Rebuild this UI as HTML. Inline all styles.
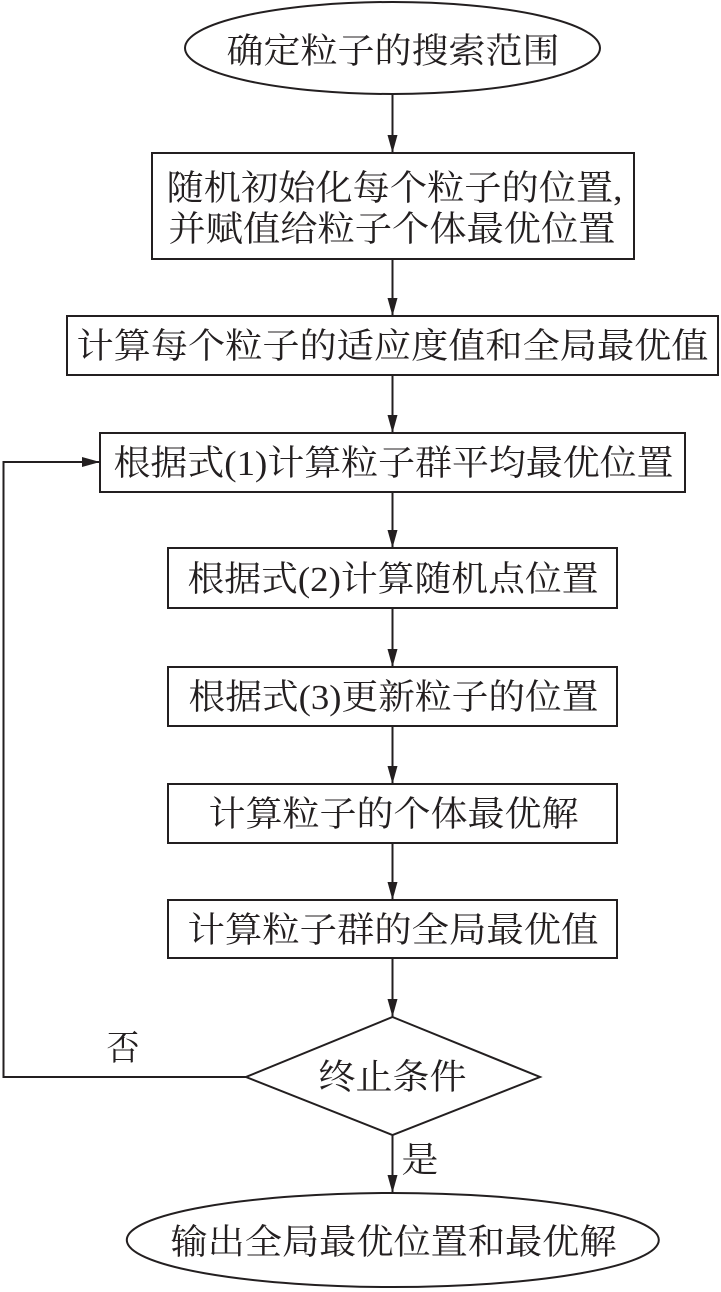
<!DOCTYPE html>
<html>
<head>
<meta charset="utf-8">
<style>
  html, body { margin: 0; padding: 0; background: #ffffff; }
  svg { display: block; }
  text { font-family: "Liberation Serif", "Noto Serif CJK SC", serif; font-size: 35px; fill: #231f20; }
</style>
</head>
<body>
<svg width="721" height="1292" viewBox="0 0 721 1292" xmlns="http://www.w3.org/2000/svg">
  <defs>
    <marker id="ah" markerWidth="18" markerHeight="10" refX="18" refY="5" orient="auto" markerUnits="userSpaceOnUse">
      <path d="M0,0 L18,5 L0,10 Z" fill="#231f20"/>
    </marker>
  </defs>
  <g fill="none" stroke="#231f20" stroke-width="2">
    <!-- top ellipse -->
    <ellipse cx="392.5" cy="48" rx="207.5" ry="46"/>
    <!-- boxes -->
    <rect x="152" y="153" width="482" height="106"/>
    <rect x="67" y="316" width="651" height="59"/>
    <rect x="100" y="433" width="585" height="59"/>
    <rect x="168" y="548" width="449" height="60"/>
    <rect x="168" y="667" width="449" height="59"/>
    <rect x="168" y="784" width="449" height="59"/>
    <rect x="168" y="900" width="449" height="58"/>
    <!-- diamond -->
    <polygon points="392.5,1017 540,1077 392.5,1135 246,1077"/>
    <!-- bottom ellipse -->
    <ellipse cx="392.8" cy="1240" rx="266" ry="47"/>
    <!-- arrows -->
    <line x1="392.5" y1="94" x2="392.5" y2="153" marker-end="url(#ah)"/>
    <line x1="392.5" y1="259" x2="392.5" y2="316" marker-end="url(#ah)"/>
    <line x1="392.5" y1="375" x2="392.5" y2="433" marker-end="url(#ah)"/>
    <line x1="392.5" y1="492" x2="392.5" y2="548" marker-end="url(#ah)"/>
    <line x1="392.5" y1="608" x2="392.5" y2="667" marker-end="url(#ah)"/>
    <line x1="392.5" y1="726" x2="392.5" y2="784" marker-end="url(#ah)"/>
    <line x1="392.5" y1="843" x2="392.5" y2="900" marker-end="url(#ah)"/>
    <line x1="392.5" y1="958" x2="392.5" y2="1017" marker-end="url(#ah)"/>
    <line x1="392.5" y1="1135" x2="392.5" y2="1193" marker-end="url(#ah)"/>
    <!-- loop back -->
    <polyline points="246,1077 3.5,1077 3.5,462 100,462" marker-end="url(#ah)"/>
  </g>

  <text x="226.5" y="63" textLength="333" lengthAdjust="spacingAndGlyphs">确定粒子的搜索范围</text>
  <text x="166.5" y="200" textLength="456" lengthAdjust="spacingAndGlyphs">随机初始化每个粒子的位置,</text>
  <text x="168.5" y="241" textLength="447" lengthAdjust="spacingAndGlyphs">并赋值给粒子个体最优位置</text>
  <text x="76.5" y="358" textLength="632" lengthAdjust="spacingAndGlyphs">计算每个粒子的适应度值和全局最优值</text>
  <text x="113.5" y="475" textLength="560" lengthAdjust="spacingAndGlyphs">根据式(1)计算粒子群平均最优位置</text>
  <text x="187.5" y="591" textLength="411" lengthAdjust="spacingAndGlyphs">根据式(2)计算随机点位置</text>
  <text x="188.5" y="709" textLength="410" lengthAdjust="spacingAndGlyphs">根据式(3)更新粒子的位置</text>
  <text x="208.5" y="826" textLength="370" lengthAdjust="spacingAndGlyphs">计算粒子的个体最优解</text>
  <text x="187.5" y="942" textLength="411" lengthAdjust="spacingAndGlyphs">计算粒子群的全局最优值</text>
  <text x="318.5" y="1089" textLength="148" lengthAdjust="spacingAndGlyphs">终止条件</text>
  <text x="106.5" y="1060" textLength="33" lengthAdjust="spacingAndGlyphs">否</text>
  <text x="401.5" y="1172" textLength="37" lengthAdjust="spacingAndGlyphs">是</text>
  <text x="170.5" y="1254" textLength="446" lengthAdjust="spacingAndGlyphs">输出全局最优位置和最优解</text>
</svg>
</body>
</html>
